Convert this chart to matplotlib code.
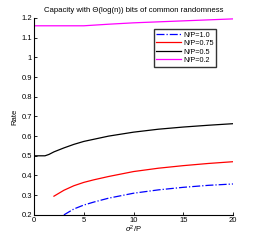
import matplotlib
matplotlib.use("Agg")
from matplotlib import pyplot as plt

# values
x_blue = [3.0, 4.0, 5.0, 6.0, 7.5, 10.0, 12.5, 15.0, 17.5, 20.0]
y_blue = [0.200, 0.230, 0.250, 0.265, 0.285, 0.310, 0.327, 0.340, 0.350, 0.357]

x_red = [2.0, 3.0, 4.0, 5.0, 6.0, 7.5, 10.0, 12.5, 15.0, 17.5, 20.0]
y_red = [0.295, 0.325, 0.348, 0.365, 0.378, 0.395, 0.420, 0.437, 0.450, 0.461, 0.470]

x_black = [0.0, 1.1, 1.5, 2.0, 3.0, 4.0, 5.0, 7.5, 10.0, 12.5, 15.0, 17.5, 20.0]
y_black = [0.500, 0.500, 0.507, 0.520, 0.540, 0.558, 0.573, 0.600, 0.620, 0.635, 0.646, 0.655, 0.663]

x_mag = [0.0, 5.0, 7.5, 10.0, 12.5, 15.0, 17.5, 20.0]
y_mag = [1.160, 1.160, 1.168, 1.175, 1.180, 1.185, 1.190, 1.195]

labels = ["N/P=1.0", "N/P=0.75", "N/P=0.5", "N/P=0.2"]
xticks = [0, 5, 10, 15, 20]
yticks = [0.2, 0.3, 0.4, 0.5, 0.6, 0.7, 0.8, 0.9, 1.0, 1.1, 1.2]
ytick_labels = ["0.2", "0.3", "0.4", "0.5", "0.6", "0.7", "0.8", "0.9", "1", "1.1", "1.2"]

plt.rcParams["font.family"] = ["Liberation Sans", "DejaVu Sans"]
plt.rcParams["mathtext.fontset"] = "custom"
plt.rcParams["mathtext.rm"] = "Liberation Sans"
plt.rcParams["mathtext.it"] = "Liberation Sans:italic"
fs = 5.5

fig = plt.figure(figsize=(2.58, 2.42), dpi=100)
ax = fig.add_axes([0.132, 0.112, 0.771, 0.814])

ax.plot(x_blue, y_blue, color="blue", linestyle="-.", linewidth=0.9, label=labels[0])
ax.plot(x_red, y_red, color="red", linewidth=0.9, label=labels[1])
ax.plot(x_black, y_black, color="black", linewidth=0.9, label=labels[2])
ax.plot(x_mag, y_mag, color="magenta", linewidth=0.9, label=labels[3])

ax.set_xlim(0, 20)
ax.set_ylim(0.2, 1.2)
ax.set_xticks(xticks)
ax.set_yticks(yticks)
ax.set_yticklabels(ytick_labels)
ax.tick_params(direction="in", length=2, width=0.6, labelsize=fs, pad=1.5)
for side in ["top", "right"]:
    ax.spines[side].set_visible(False)
for side in ["left", "bottom"]:
    ax.spines[side].set_linewidth(0.8)

ax.set_xlabel(r"$\sigma^2$/P", fontsize=fs, labelpad=0)
ax.set_ylabel("Rate", fontsize=fs, labelpad=2)
ax.set_title("Capacity with \u0398(log(n)) bits of common randomness", fontsize=5.6, pad=4)

leg = ax.legend(loc="upper right", bbox_to_anchor=(0.915, 0.944), fontsize=5.2,
                frameon=True, fancybox=False, handlelength=3.4, handletextpad=0.3,
                borderpad=0.35, labelspacing=0.2, borderaxespad=0)
leg.get_frame().set_edgecolor("black")
leg.get_frame().set_linewidth(1.0)

fig.savefig("out.png", dpi=100)
